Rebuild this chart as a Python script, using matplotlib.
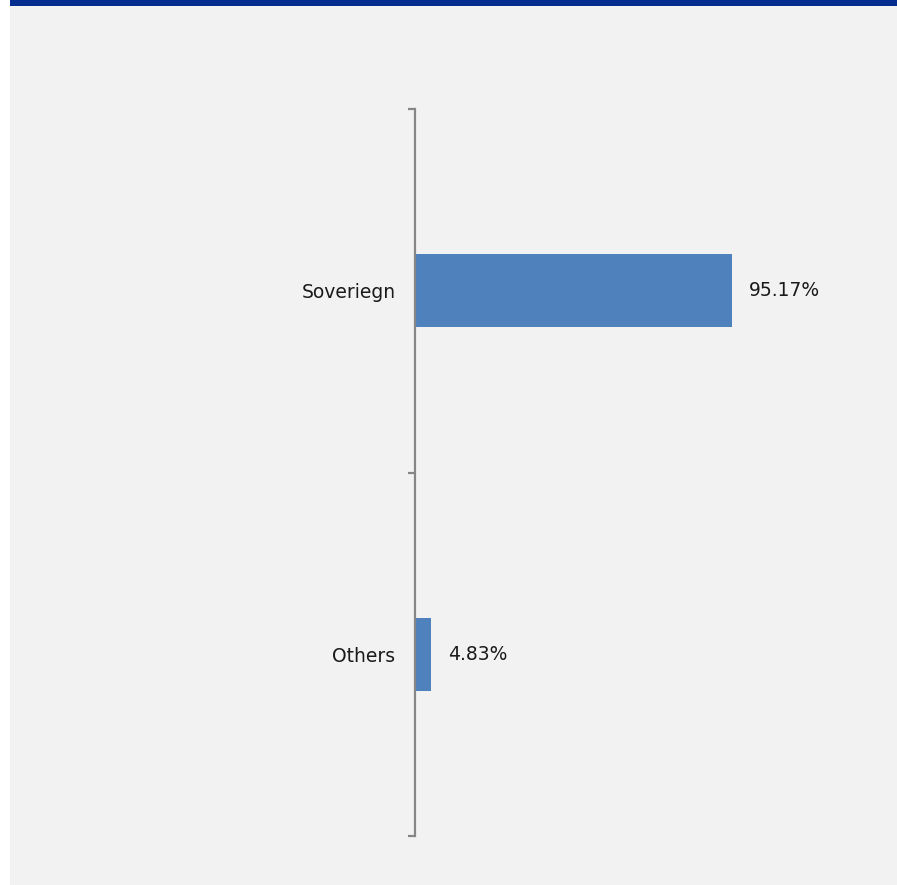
import numpy as np
import matplotlib
matplotlib.use("Agg")
import matplotlib.pyplot as plt

# data
categories = ["Others", "Soveriegn"]
values = [4.83, 95.17]
labels = ["4.83%", "95.17%"]

bar_col = "#4F81BD"
bg_col = "#F2F2F2"
axis_col = "#868686"
fnt = "DejaVu Sans"

fig = plt.figure(figsize=(8.97, 8.85), dpi=100)
fig.patch.set_facecolor("white")

# grey panel and blue banner
panel = fig.add_axes([10/897, 0, 887/897, 1 - 6/885])
panel.set_facecolor(bg_col)
panel.set_xticks([]); panel.set_yticks([])
for s in panel.spines.values():
    s.set_visible(False)
banner = fig.add_axes([10/897, 1 - 6/885, 887/897, 6/885])
banner.set_facecolor("#032D8F")
banner.set_xticks([]); banner.set_yticks([])
for s in banner.spines.values():
    s.set_visible(False)

# chart axes: x 415..815 px, y 109..836 px
ax = fig.add_axes([415/897, 1 - 836/885, 400/897, 727/885])
ax.patch.set_alpha(0)
ypos = np.arange(len(categories))
ax.barh(ypos, values, height=0.2, color=bar_col, zorder=2)
ax.set_xlim(0, 120)
ax.set_ylim(-0.5, 1.5)

for y, v, t in zip(ypos, values, labels):
    ax.text(v + 5, y, t, va="center", ha="left", fontsize=13.5,
            family=fnt, color="#1a1a1a")

ax.set_yticks([-0.5, 0.5, 1.5])
ax.set_yticklabels([])
ax.set_yticks(ypos, minor=True)
ax.set_yticklabels(categories, minor=True, fontsize=13.5, family=fnt,
                   color="#1a1a1a")
ax.tick_params(axis="y", which="major", length=5, width=1.6, color=axis_col,
               direction="out")
ax.tick_params(axis="y", which="minor", length=0, pad=14)
ax.set_xticks([])

for k in ["top", "right", "bottom"]:
    ax.spines[k].set_visible(False)
ax.spines["left"].set_color(axis_col)
ax.spines["left"].set_linewidth(1.6)

fig.savefig("out.png", dpi=100, facecolor=fig.get_facecolor())
